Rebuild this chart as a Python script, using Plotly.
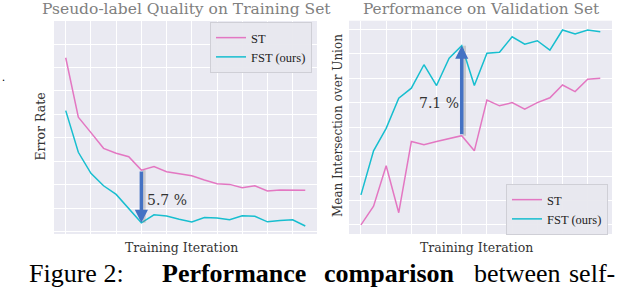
import plotly.graph_objects as go

# ---------------- data (arbitrary units) ----------------
iterations = list(range(20))

# Left panel: pseudo-label error rate
train_st = [7.42, 4.88, 4.22, 3.55, 3.34, 3.19, 2.62, 2.77, 2.55, 2.48,
            2.38, 2.20, 2.04, 2.01, 1.87, 1.95, 1.73, 1.77, 1.76, 1.76]
train_fst = [5.16, 3.38, 2.48, 1.95, 1.58, 0.99, 0.37, 0.71, 0.66, 0.52,
             0.40, 0.59, 0.57, 0.50, 0.67, 0.65, 0.41, 0.47, 0.50, 0.23]

# Right panel: validation mIoU
val_st = [0.00, 0.77, 2.42, 0.50, 3.41, 3.28, 3.41, 3.54, 3.65, 3.03,
          5.11, 4.87, 5.00, 4.73, 5.00, 5.20, 5.72, 5.45, 5.96, 6.00]
val_fst = [1.23, 3.03, 3.95, 5.18, 5.59, 6.55, 5.70, 6.82, 7.33, 5.70,
           7.02, 7.06, 7.69, 7.39, 7.53, 7.15, 7.97, 7.81, 7.97, 7.90]

series_names = ["ST", "FST (ours)"]
train_gap_label = "5.7 %"
val_gap_label = "7.1 %"
train_gap_idx = 6
val_gap_idx = 8

titles = ["Pseudo-label Quality on Training Set", "Performance on Validation Set"]
ylabels = ["Error Rate", "Mean Intersection over Union"]
xlabel = "Training Iteration"

# ---------------- styling ----------------
W, H = 624, 290
PINK = "#e377c2"
CYAN = "#17becf"
BG = "#EAEAF2"
ARROW = "#4472c4"
SERIF = "DejaVu Serif"
TIMES = "Liberation Serif"


def px(x):
    return x / W


def py(y):
    return 1 - y / H


fig = go.Figure()

fig.add_trace(go.Scatter(x=iterations, y=train_st, mode="lines", name=series_names[0],
                         line=dict(color=PINK, width=1.5), xaxis="x", yaxis="y", legend="legend"))
fig.add_trace(go.Scatter(x=iterations, y=train_fst, mode="lines", name=series_names[1],
                         line=dict(color=CYAN, width=1.5), xaxis="x", yaxis="y", legend="legend"))
fig.add_trace(go.Scatter(x=iterations, y=val_st, mode="lines", name=series_names[0],
                         line=dict(color=PINK, width=1.5), xaxis="x2", yaxis="y2", legend="legend2"))
fig.add_trace(go.Scatter(x=iterations, y=val_fst, mode="lines", name=series_names[1],
                         line=dict(color=CYAN, width=1.5), xaxis="x2", yaxis="y2", legend="legend2"))

axis_common = dict(showticklabels=False, ticks="", showline=False, zeroline=False,
                   showgrid=True, gridcolor="white", gridwidth=1.2, fixedrange=True)

legend_common = dict(xanchor="left", yanchor="top",
                     bgcolor="rgba(232,232,238,0.95)", bordercolor="#cfcfd6", borderwidth=1,
                     font=dict(family=TIMES, size=12.5, color="#222"), itemwidth=30,
                     tracegroupgap=0)

fig.update_layout(
    width=W, height=H,
    margin=dict(l=0, r=0, t=0, b=0),
    paper_bgcolor="white",
    plot_bgcolor=BG,
    showlegend=True,
    xaxis=dict(domain=[px(54), px(317)], range=[-0.93, 19.93], tick0=0, dtick=2, anchor="y", **axis_common),
    yaxis=dict(domain=[py(234), py(21)], range=[-0.11, 8.99], tick0=0, dtick=1, anchor="x", **axis_common),
    xaxis2=dict(domain=[px(349), px(612)], range=[-0.95, 19.93], tick0=0, dtick=2, anchor="y2", **axis_common),
    yaxis2=dict(domain=[py(234), py(20.7)], range=[-0.37, 8.35], tick0=0, dtick=1, anchor="x2", **axis_common),
    legend=dict(x=px(210), y=py(22), **legend_common),
    legend2=dict(x=px(506), y=py(184), **legend_common),
)

ann = []
# titles
ann.append(dict(text=titles[0], x=px(186), y=py(9), xref="paper", yref="paper",
                showarrow=False, xanchor="center", yanchor="middle",
                font=dict(family=SERIF, size=15.5, color="#808080")))
ann.append(dict(text=titles[1], x=px(481.5), y=py(9), xref="paper", yref="paper",
                showarrow=False, xanchor="center", yanchor="middle",
                font=dict(family=SERIF, size=15.3, color="#808080")))
# x labels
ann.append(dict(text=xlabel, x=px(181), y=py(247), xref="paper", yref="paper",
                showarrow=False, xanchor="center", yanchor="middle",
                font=dict(family=SERIF, size=12.5, color="#333")))
ann.append(dict(text=xlabel, x=px(476), y=py(247), xref="paper", yref="paper",
                showarrow=False, xanchor="center", yanchor="middle",
                font=dict(family=SERIF, size=12.5, color="#333")))
# y labels
ann.append(dict(text=ylabels[0], x=px(39.5), y=py(127), xref="paper", yref="paper",
                showarrow=False, xanchor="center", yanchor="middle", textangle=-90,
                font=dict(family=SERIF, size=12.5, color="#333")))
ann.append(dict(text=ylabels[1], x=px(338), y=py(126), xref="paper", yref="paper",
                showarrow=False, xanchor="center", yanchor="middle", textangle=-90,
                font=dict(family=SERIF, size=12, color="#333")))

# gap arrows (from ST to FST at the chosen iteration)
shapes = []
for xa, ya, idx, top_series, bot_series in [
    ("x", "y", train_gap_idx, train_st, train_fst),
    ("x2", "y2", val_gap_idx, val_fst, val_st),
]:
    if xa == "x":
        head_y, tail_y = bot_series[idx], top_series[idx]
    else:
        head_y, tail_y = top_series[idx], bot_series[idx]
    shapes.append(dict(type="line", xref=xa, yref=ya, x0=idx + 0.22, x1=idx + 0.22,
                       y0=tail_y, y1=head_y, line=dict(color="rgba(110,110,110,0.28)", width=3)))
    ann.append(dict(text="", x=idx, y=head_y, ax=idx, ay=tail_y, xref=xa, yref=ya,
                    axref=xa, ayref=ya, showarrow=True, arrowhead=2, arrowsize=0.75,
                    arrowwidth=3.5, arrowcolor=ARROW, standoff=0, startstandoff=0))

ann.append(dict(text=train_gap_label, x=px(167), y=py(200), xref="paper", yref="paper",
                showarrow=False, xanchor="center", yanchor="middle",
                font=dict(family=SERIF, size=14, color="#333")))
ann.append(dict(text=val_gap_label, x=px(439), y=py(102.5), xref="paper", yref="paper",
                showarrow=False, xanchor="center", yanchor="middle",
                font=dict(family=SERIF, size=14, color="#333")))

# caption fragment below the figure
cap_font = dict(family=TIMES, size=26, color="#000")
for txt, x0 in [("Figure 2:", 27), ("<b>Performance</b>", 160), ("<b>comparison</b>", 322),
                ("between", 472), ("self-", 567)]:
    ann.append(dict(text=txt, x=px(x0), y=py(290), xref="paper", yref="paper",
                    showarrow=False, xanchor="left", yanchor="bottom", font=cap_font))
# stray mark at far left
ann.append(dict(text=".", x=0, y=py(86), xref="paper", yref="paper",
                showarrow=False, xanchor="left", yanchor="bottom",
                font=dict(family=TIMES, size=12, color="#000")))

fig.update_layout(annotations=ann, shapes=shapes)
fig.write_html("out.html", config={"displayModeBar": False},
               post_script="document.body.style.margin='0';document.body.style.overflow='hidden';")
